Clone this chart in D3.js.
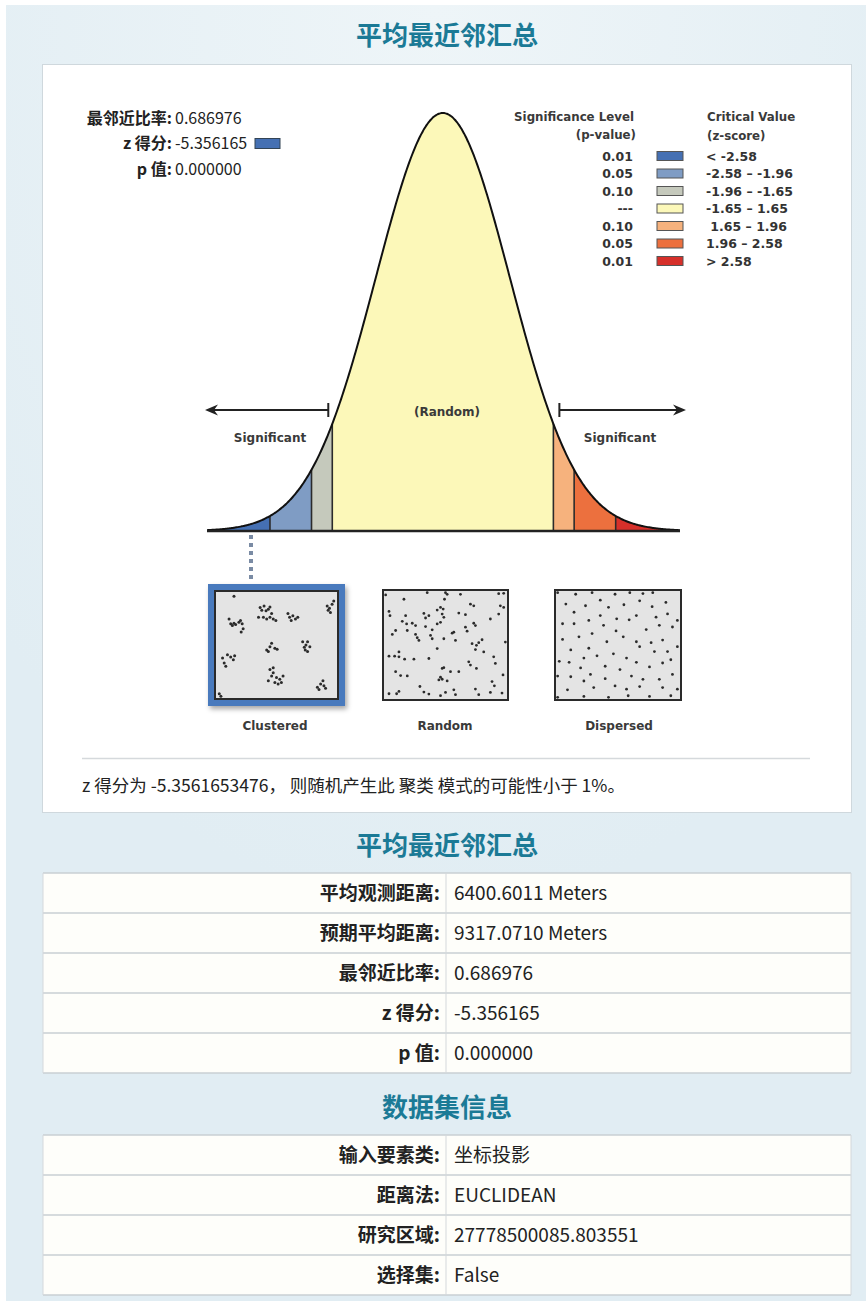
<!DOCTYPE html>
<html><head><meta charset="utf-8">
<script src="https://cdn.jsdelivr.net/npm/d3@7"></script>
<style>
body{margin:0;background:#fff;}
svg{display:block;}
</style></head><body>
<svg id="c" width="866" height="1301"></svg>
<script>
// ---------------- data ----------------
const sectionTitles = ["平均最近邻汇总", "平均最近邻汇总", "数据集信息"];
const statLabels = ["最邻近比率:", "z 得分:", "p 值:"];
const statValues = ["0.686976", "-5.356165", "0.000000"];
const zScore = -5.356165;
const zRange = [-3.52, 3.54];
const zBreaks = [-2.58, -1.96, -1.65, 1.65, 1.96, 2.58];
const zoneColors = ["#4570b3", "#7f9cc4", "#c5c9bc", "#fcf8b9", "#f6b27d", "#ec703e", "#d6302a"];
const pLabels = ["0.01", "0.05", "0.10", "---", "0.10", "0.05", "0.01"];
const zLabels = ["< -2.58", "-2.58 – -1.96", "-1.96 – -1.65", "-1.65 – 1.65", " 1.65 – 1.96", "1.96 – 2.58", "> 2.58"];
const patternNames = ["Clustered", "Random", "Dispersed"];
const summaryText = "z 得分为 -5.3561653476， 则随机产生此 聚类 模式的可能性小于 1%。";
const table1Labels = ["平均观测距离:", "预期平均距离:", "最邻近比率:", "z 得分:", "p 值:"];
const table1Values = ["6400.6011 Meters", "9317.0710 Meters", "0.686976", "-5.356165", "0.000000"];
const table2Labels = ["输入要素类:", "距离法:", "研究区域:", "选择集:"];
const table2Values = ["坐标投影", "EUCLIDEAN", "27778500085.803551", "False"];

// pattern point samples (in each sample's own extent)
const clusteredExtent = {x: [75, 445], y: [62, 388]};
const clusteredPts = [[130,75],[115,145],[120,160],[125,165],[130,158],[135,162],[150,150],[155,160],[158,175],[152,185],[145,155],
 [210,110],[215,118],[222,105],[228,120],[235,115],[240,108],[245,128],[220,140],[230,145],[240,140],[250,145],[258,150],[205,140],
 [295,128],[300,140],[310,135],[318,145],[325,140],[305,150],
 [415,105],[422,112],[430,100],[435,90],[425,125],[418,118],
 [230,240],[240,230],[245,220],[255,235],[262,238],[235,245],
 [340,215],[350,225],[355,215],[362,230],[348,240],[355,245],[345,232],
 [95,265],[100,280],[110,255],[120,262],[128,270],[132,258],[105,290],
 [240,300],[250,310],[245,320],[260,325],[270,330],[275,340],[265,345],[235,335],[255,340],[280,320],[250,295],
 [385,355],[395,345],[402,335],[405,350],[410,358],[390,362],
 [85,375],[90,383]];
const randomExtent = {x: [40, 410], y: [30, 358]};
const randomPts = [[100,55],[55,92],[58,105],[95,122],[105,105],[108,130],[125,128],[135,135],[75,150],[65,162],[110,150],[135,162],[140,172],
 [160,98],[165,112],[175,105],[165,138],[185,148],[180,165],[200,88],[210,80],[218,85],[215,100],[220,110],[200,130],[210,125],
 [225,35],[222,55],[270,40],[265,97],[285,102],[300,70],[310,75],[285,140],[290,152],[310,128],[315,135],[245,158],[250,155],
 [255,180],[220,175],[200,205],[185,175],[145,180],[305,190],[318,195],[325,187],[335,178],[315,208],[360,115],[385,100],[390,75],
 [400,80],[385,38],[400,37],[405,185],[340,215],[370,230],[375,250],[398,285],[55,228],[72,228],[85,215],[85,230],[102,237],
 [130,237],[175,235],[75,275],[90,287],[110,288],[295,245],[300,255],[318,265],[215,265],[220,263],[240,275],[265,275],[210,292],
 [215,298],[230,303],[205,300],[148,320],[160,337],[175,343],[210,348],[225,338],[250,330],[255,345],[315,328],[325,345],[365,305],
 [372,318],[360,338],[395,340],[55,342],[78,342],[85,335],[45,42],[170,35],[230,40]];
const dispersedExtent = {x: [555, 933], y: [30, 360]};
const dispersedPts = [[615,40],[665,35],[690,58],[735,40],[780,35],[820,38],[850,35],[890,65],[585,70],[645,75],[715,80],[762,72],
 [810,60],[848,78],[610,95],[690,105],[740,115],[800,105],[860,110],[895,100],[575,130],[610,130],[655,120],[700,135],[738,152],
 [778,118],[830,148],[870,135],[625,170],[665,160],[710,185],[760,170],[800,185],[845,188],[880,180],[575,178],[600,210],[655,205],
 [730,222],[770,235],[810,200],[855,215],[895,215],[565,245],[595,248],[640,235],[680,228],[705,260],[750,270],[800,248],[840,262],
 [880,250],[905,240],[630,265],[660,285],[600,292],[640,305],[705,298],[735,320],[785,290],[820,300],[870,300],[910,285],[590,332],
 [670,325],[770,330],[810,322],[880,325],[560,355],[640,352],[715,355],[775,350],[840,352],[905,350],[560,35],[910,140],[560,290],
 [925,120],[925,200],[925,330]];

// ---------------- drawing ----------------
const svg = d3.select("#c");
const CJK = "'Noto Sans CJK SC', 'Noto Sans', sans-serif";
const LAT = "'DejaVu Sans', Verdana, sans-serif";
const titleColor = "#1b7a96";

// page background
const defs = svg.append("defs");
const rg = defs.append("radialGradient").attr("id", "bgGrad").attr("cx", "50%").attr("cy", "0%").attr("r", "70%");
rg.append("stop").attr("offset", "0%").attr("stop-color", "#eef5f8");
rg.append("stop").attr("offset", "100%").attr("stop-color", "#e1edf3");
const sh = defs.append("filter").attr("id", "shadow").attr("x", "-10%").attr("y", "-10%").attr("width", "130%").attr("height", "130%");
sh.append("feDropShadow").attr("dx", 2).attr("dy", 3).attr("stdDeviation", 2.5).attr("flood-color", "#000").attr("flood-opacity", 0.35);

svg.append("rect").attr("x", 6).attr("y", 5).attr("width", 860).attr("height", 1296).attr("fill", "url(#bgGrad)");

// section titles
const titleY = [45, 855, 1117];
svg.selectAll("text.sectitle").data(sectionTitles).join("text")
  .attr("class", "sectitle")
  .attr("x", 447).attr("y", (d, i) => titleY[i])
  .attr("text-anchor", "middle")
  .attr("font-family", CJK).attr("font-weight", "bold").attr("font-size", 26)
  .attr("fill", titleColor).text(d => d);

// white panel
svg.append("rect").attr("x", 42.5).attr("y", 64.5).attr("width", 809).attr("height", 748)
  .attr("fill", "#fff").attr("stroke", "#cfd8dd");

// ---- bell curve ----
const x = d3.scaleLinear().domain(zRange).range([207, 680]);
const pdf = z => Math.exp(-z * z / 2) / Math.sqrt(2 * Math.PI);
const y = d3.scaleLinear().domain([0, pdf(0)]).range([531, 113]);

const edges = [zRange[0], ...zBreaks, zRange[1]];
const sampleZ = (a, b) => {
  const n = Math.max(4, Math.ceil((b - a) / 0.02));
  return d3.range(n + 1).map(i => a + (b - a) * i / n);
};
const area = d3.area().x(z => x(z)).y0(y(0)).y1(z => y(pdf(z)));
const zones = zoneColors.map((c, i) => ({color: c, a: edges[i], b: edges[i + 1]}));
svg.selectAll("path.zone").data(zones).join("path")
  .attr("class", "zone")
  .attr("d", d => area(sampleZ(d.a, d.b)))
  .attr("fill", d => d.color);
svg.selectAll("line.div").data(zBreaks).join("line")
  .attr("class", "div")
  .attr("x1", d => x(d)).attr("x2", d => x(d))
  .attr("y1", y(0)).attr("y2", d => y(pdf(d)))
  .attr("stroke", "#2b2b2b").attr("stroke-width", 1.6);
const line = d3.line().x(z => x(z)).y(z => y(pdf(z))).curve(d3.curveBasis);
svg.append("path").attr("d", line(sampleZ(zRange[0], zRange[1])))
  .attr("fill", "none").attr("stroke", "#111").attr("stroke-width", 2);
svg.append("line").attr("x1", x(zRange[0])).attr("x2", x(zRange[1]))
  .attr("y1", y(0)).attr("y2", y(0)).attr("stroke", "#222").attr("stroke-width", 2.6);

// arrows
function arrow(xBar, xTip, yy) {
  const dir = Math.sign(xTip - xBar);
  svg.append("line").attr("x1", xBar).attr("x2", xTip - dir * 6).attr("y1", yy).attr("y2", yy)
    .attr("stroke", "#222").attr("stroke-width", 2);
  svg.append("line").attr("x1", xBar).attr("x2", xBar).attr("y1", yy - 7).attr("y2", yy + 7)
    .attr("stroke", "#222").attr("stroke-width", 2);
  svg.append("path").attr("d", `M${xTip},${yy} L${xTip - dir * 13},${yy - 5.5} L${xTip - dir * 9},${yy} L${xTip - dir * 13},${yy + 5.5} Z`)
    .attr("fill", "#222");
}
arrow(x(zBreaks[2]) - 4, x(zRange[0]) - 2, 410);
arrow(x(zBreaks[3]) + 6, x(zRange[1]) + 6, 410);

const lbl = (t, xx, yy, anchor, size) => svg.append("text").attr("x", xx).attr("y", yy)
  .attr("text-anchor", anchor || "middle").attr("font-family", LAT).attr("font-weight", "bold")
  .attr("font-size", size || 12).attr("fill", "#3a3a3a").text(t);
lbl("Significant", 270, 442, "middle", 12);
lbl("(Random)", 447, 416, "middle", 12);
lbl("Significant", 620, 442, "middle", 12);

// z-score marker dotted line
svg.append("line").attr("x1", 251).attr("x2", 251).attr("y1", 535).attr("y2", 582)
  .attr("stroke", "#7a8ba4").attr("stroke-width", 4).attr("stroke-dasharray", "4,4");

// ---- legend ----
lbl("Significance Level", 634, 121, "end", 11.8);
lbl("(p-value)", 636, 139, "end", 11.8);
lbl("Critical Value", 707, 121, "start", 11.8);
lbl("(z-score)", 707, 140, "start", 11.8);
const legY = d3.scalePoint().domain(d3.range(pLabels.length)).range([156, 261]);
const leg = svg.selectAll("g.leg").data(pLabels.map((p, i) => ({p, z: zLabels[i], c: zoneColors[i], i}))).join("g").attr("class", "leg");
leg.append("text").attr("x", 633).attr("y", d => legY(d.i) + 4.5).attr("text-anchor", "end")
  .attr("font-family", LAT).attr("font-weight", "bold").attr("font-size", 12.5).attr("fill", "#333").text(d => d.p);
leg.append("rect").attr("x", 657).attr("y", d => legY(d.i) - 4.5).attr("width", 26).attr("height", 9)
  .attr("fill", d => d.c).attr("stroke", "#555").attr("stroke-width", 1);
leg.append("text").attr("x", 706).attr("y", d => legY(d.i) + 4.5).attr("text-anchor", "start")
  .attr("xml:space", "preserve").style("white-space", "pre")
  .attr("font-family", LAT).attr("font-weight", "bold").attr("font-size", 12.5).attr("fill", "#333").text(d => d.z);

// ---- stats top-left ----
statLabels.forEach((t, i) => {
  const yy = 123.5 + i * 25.5;
  svg.append("text").attr("x", 172).attr("y", yy).attr("text-anchor", "end")
    .attr("font-family", CJK).attr("font-weight", "bold").attr("font-size", 16).attr("fill", "#222").text(t);
  svg.append("text").attr("x", 175).attr("y", yy).attr("font-family", CJK)
    .attr("font-size", 16).attr("fill", "#222").text(statValues[i]);
});
// marker swatch for z-score zone
const zoneIdx = d3.bisect(zBreaks, zScore);
svg.append("rect").attr("x", 255).attr("y", 138.5).attr("width", 25).attr("height", 10)
  .attr("fill", zoneColors[zoneIdx]).attr("stroke", "#345").attr("stroke-width", 1);

// ---- pattern boxes ----
const boxes = [
  {pts: clusteredPts, ext: clusteredExtent, x0: 215, x1: 338, y0: 591, y1: 699, lx: 275},
  {pts: randomPts, ext: randomExtent, x0: 383, x1: 508, y0: 590, y1: 700, lx: 445},
  {pts: dispersedPts, ext: dispersedExtent, x0: 555, x1: 681, y0: 590, y1: 700, lx: 619}
];
// highlighted frame for the matching pattern (clustered)
const b0 = boxes[zScore < -1.65 ? 0 : (zScore > 1.65 ? 2 : 1)];
svg.append("rect").attr("x", b0.x0 - 7).attr("y", b0.y0 - 7).attr("width", b0.x1 - b0.x0 + 14).attr("height", b0.y1 - b0.y0 + 14)
  .attr("fill", "#4a7abd").attr("filter", "url(#shadow)");
boxes.forEach((b, i) => {
  svg.append("rect").attr("x", b.x0).attr("y", b.y0).attr("width", b.x1 - b.x0).attr("height", b.y1 - b.y0)
    .attr("fill", "#e4e4e4").attr("stroke", "#2a2a2a").attr("stroke-width", 2);
  const sx = d3.scaleLinear().domain(b.ext.x).range([b.x0 + 1, b.x1 - 1]);
  const sy = d3.scaleLinear().domain(b.ext.y).range([b.y0 + 1, b.y1 - 1]);
  svg.append("g").selectAll("circle").data(b.pts).join("circle")
    .attr("cx", d => sx(d[0])).attr("cy", d => sy(d[1])).attr("r", i === 0 ? 1.5 : 1.4)
    .attr("fill", "#2b2b2b");
  lbl(patternNames[i], b.lx, 730, "middle", 12);
});

// separator + summary text
svg.append("line").attr("x1", 82).attr("x2", 810).attr("y1", 758.5).attr("y2", 758.5).attr("stroke", "#d5d9dc").attr("stroke-width", 1.5);
svg.append("text").attr("x", 82).attr("y", 792).attr("font-family", CJK).attr("font-size", 17.5)
  .attr("fill", "#222").text(summaryText);

// ---- tables ----
function table(labels, values, top) {
  const rowH = 40;
  const yS = d3.scaleBand().domain(d3.range(labels.length)).range([top, top + rowH * labels.length]);
  const g = svg.append("g");
  g.selectAll("rect.row").data(labels).join("rect")
    .attr("x", 43).attr("y", (d, i) => yS(i)).attr("width", 808).attr("height", yS.bandwidth())
    .attr("fill", "#fefefa");
  g.selectAll("line.sep").data(d3.range(labels.length + 1)).join("line")
    .attr("x1", 43).attr("x2", 851).attr("y1", i => top + i * rowH).attr("y2", i => top + i * rowH)
    .attr("stroke", "#c9cfd3").attr("stroke-width", 1.5);
  g.append("line").attr("x1", 446).attr("x2", 446).attr("y1", top).attr("y2", top + rowH * labels.length)
    .attr("stroke", "#d4d8db").attr("stroke-width", 1);
  [43, 851].forEach(xx => g.append("line").attr("x1", xx).attr("x2", xx).attr("y1", top).attr("y2", top + rowH * labels.length)
    .attr("stroke", "#d4d8db").attr("stroke-width", 1));
  g.selectAll("text.lab").data(labels).join("text")
    .attr("x", 440).attr("y", (d, i) => yS(i) + 27).attr("text-anchor", "end")
    .attr("font-family", CJK).attr("font-weight", "bold").attr("font-size", 19).attr("fill", "#222").text(d => d);
  g.selectAll("text.val").data(values).join("text")
    .attr("x", 454).attr("y", (d, i) => yS(i) + 27)
    .attr("font-family", CJK).attr("font-size", 19).attr("fill", "#222").text(d => d);
}
table(table1Labels, table1Values, 873);
table(table2Labels, table2Values, 1135);
</script>
</body></html>
